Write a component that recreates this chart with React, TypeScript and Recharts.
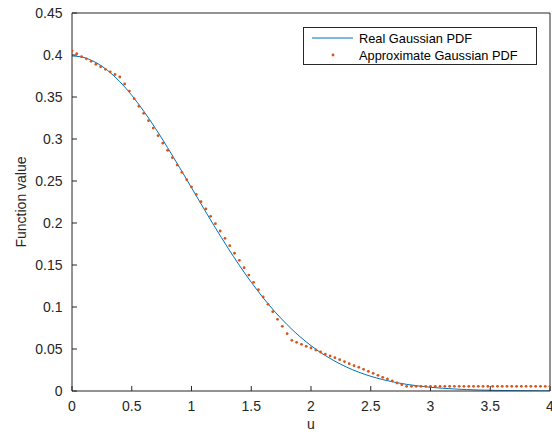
import React from 'react';
import { ComposedChart, Line, Scatter, XAxis, YAxis, Label } from 'recharts';

const realU = [0, 0.1, 0.2, 0.3, 0.4, 0.5, 0.6, 0.7, 0.8, 0.9, 1.0, 1.1, 1.2, 1.3, 1.4, 1.5, 1.6, 1.7, 1.8, 1.9, 2.0, 2.1, 2.2, 2.3, 2.4, 2.5, 2.6, 2.7, 2.8, 2.9, 3.0, 3.1, 3.2, 3.3, 3.4, 3.5, 3.6, 3.7, 3.8, 3.9, 4.0];
const realV = [0.3989, 0.3970, 0.3910, 0.3814, 0.3683, 0.3521, 0.3332, 0.3123, 0.2897, 0.2661, 0.2420, 0.2179, 0.1942, 0.1714, 0.1497, 0.1295, 0.1109, 0.0940, 0.0790, 0.0656, 0.0540, 0.0440, 0.0355, 0.0283, 0.0224, 0.0175, 0.0136, 0.0104, 0.0079, 0.0060, 0.0044, 0.0033, 0.0024, 0.0017, 0.0012, 0.0009, 0.0006, 0.0004, 0.0003, 0.0002, 0.0001];

const approxU = [0, 0.04, 0.08, 0.12, 0.16, 0.2, 0.24, 0.28, 0.32, 0.36, 0.4, 0.44, 0.48, 0.52, 0.56, 0.6, 0.64, 0.68, 0.72, 0.76, 0.8, 0.84, 0.88, 0.92, 0.96, 1.0, 1.04, 1.08, 1.12, 1.16, 1.2, 1.24, 1.28, 1.32, 1.36, 1.4, 1.44, 1.48, 1.52, 1.56, 1.6, 1.64, 1.68, 1.72, 1.76, 1.8, 1.84, 1.88, 1.92, 1.96, 2.0, 2.04, 2.08, 2.12, 2.16, 2.2, 2.24, 2.28, 2.32, 2.36, 2.4, 2.44, 2.48, 2.52, 2.56, 2.6, 2.64, 2.68, 2.72, 2.76, 2.8, 2.84, 2.88, 2.92, 2.96, 3.0, 3.04, 3.08, 3.12, 3.16, 3.2, 3.24, 3.28, 3.32, 3.36, 3.4, 3.44, 3.48, 3.52, 3.56, 3.6, 3.64, 3.68, 3.72, 3.76, 3.8, 3.84, 3.88, 3.92, 3.96, 4.0];
const approxV = [0.405, 0.4015, 0.398, 0.3955, 0.3925, 0.389, 0.386, 0.383, 0.380, 0.3768, 0.3738, 0.3655, 0.357, 0.348, 0.339, 0.3306, 0.3218, 0.313, 0.304, 0.295, 0.2865, 0.2778, 0.269, 0.2603, 0.2516, 0.2429, 0.234, 0.2254, 0.2167, 0.208, 0.1992, 0.1905, 0.1817, 0.173, 0.164, 0.1556, 0.1468, 0.138, 0.1294, 0.1206, 0.1119, 0.1032, 0.0944, 0.0853, 0.077, 0.0682, 0.0603, 0.058, 0.0556, 0.0532, 0.0512, 0.0488, 0.0464, 0.044, 0.0417, 0.0397, 0.0373, 0.035, 0.0325, 0.0302, 0.0282, 0.0258, 0.0234, 0.021, 0.0187, 0.0163, 0.0143, 0.012, 0.0095, 0.0075, 0.0056, 0.0056, 0.0056, 0.0056, 0.0056, 0.0056, 0.0056, 0.0056, 0.0056, 0.0056, 0.0056, 0.0056, 0.0056, 0.0056, 0.0056, 0.0056, 0.0056, 0.0056, 0.0056, 0.0056, 0.0056, 0.0056, 0.0056, 0.0056, 0.0056, 0.0056, 0.0056, 0.0056, 0.0056, 0.0056, 0.0056];

const xTicks = [0, 0.5, 1, 1.5, 2, 2.5, 3, 3.5, 4];
const yTicks = [0, 0.05, 0.1, 0.15, 0.2, 0.25, 0.3, 0.35, 0.4, 0.45];

const seriesNames = ['Real Gaussian PDF', 'Approximate Gaussian PDF'];

const realData = realU.map((u, i) => ({ u, v: realV[i] }));
const approxData = approxU.map((u, i) => ({ u, v: approxV[i] }));

const BLUE = '#0072BD';
const ORANGE = '#D95319';
const AX = '#262626';
const FONT = '"Liberation Sans", Arial, Helvetica, sans-serif';

const Dot = (props: any) => {
  const { cx, cy } = props;
  if (cx == null || cy == null) return null;
  return <circle cx={cx} cy={cy} r={1.4} fill={ORANGE} />;
};

export default function App() {
  const tickStyle = { fill: AX, fontSize: 14, fontFamily: FONT };
  return (
    <div style={{ position: 'absolute', left: 0, top: 0, width: 552, height: 433, background: '#fff' }}>
      <ComposedChart width={552} height={433} margin={{ top: 0, right: 0, bottom: 0, left: 0 }}>
        <XAxis
          xAxisId="b"
          dataKey="u"
          type="number"
          domain={[0, 4]}
          ticks={xTicks}
          interval={0}
          orientation="bottom"
          height={42}
          tickSize={-5}
          tickMargin={15}
          stroke={AX}
          tick={tickStyle}
          allowDataOverflow
        >
          <Label value="u" position="center" dy={12} style={{ fill: AX, fontSize: 14, fontFamily: FONT }} />
        </XAxis>
        <XAxis
          xAxisId="t"
          dataKey="u"
          type="number"
          domain={[0, 4]}
          ticks={xTicks}
          interval={0}
          orientation="top"
          height={13}
          tickSize={-5}
          stroke={AX}
          tick={false}
          allowDataOverflow
        />
        <YAxis
          yAxisId="l"
          type="number"
          domain={[0, 0.45]}
          ticks={yTicks}
          interval={0}
          orientation="left"
          width={72}
          tickSize={-5}
          tickMargin={14.5}
          stroke={AX}
          tick={tickStyle}
          allowDataOverflow
        >
          <Label value="Function value" angle={-90} position="center" dx={-15} style={{ fill: AX, fontSize: 14, fontFamily: FONT, textAnchor: 'middle' }} />
        </YAxis>
        <YAxis
          yAxisId="r"
          type="number"
          domain={[0, 0.45]}
          ticks={yTicks}
          interval={0}
          orientation="right"
          width={2}
          tickSize={-5}
          stroke={AX}
          tick={false}
          allowDataOverflow
        />
        <Line
          xAxisId="b"
          yAxisId="l"
          data={realData}
          dataKey="v"
          type="monotone"
          stroke={BLUE}
          strokeWidth={1}
          dot={false}
          activeDot={false}
          isAnimationActive={false}
          name={seriesNames[0]}
        />
        <Scatter
          xAxisId="b"
          yAxisId="l"
          data={approxData}
          dataKey="v"
          fill={ORANGE}
          shape={<Dot />}
          isAnimationActive={false}
          name={seriesNames[1]}
        />
      </ComposedChart>
      <div
        style={{
          position: 'absolute',
          left: 303,
          top: 27,
          width: 234,
          height: 38,
          boxSizing: 'border-box',
          border: `1px solid ${AX}`,
          background: '#fff',
        }}
      >
        <svg width={232} height={36} style={{ position: 'absolute', left: 0, top: 0 }}>
          <line x1={8} x2={49} y1={10} y2={10} stroke={BLUE} strokeWidth={1} />
          <circle cx={29} cy={27} r={1.4} fill={ORANGE} />
          <text x={55} y={14.5} fontSize={12.8} fontFamily={FONT} fill="#000">{seriesNames[0]}</text>
          <text x={55} y={31.5} fontSize={12.8} fontFamily={FONT} fill="#000">{seriesNames[1]}</text>
        </svg>
      </div>
    </div>
  );
}
